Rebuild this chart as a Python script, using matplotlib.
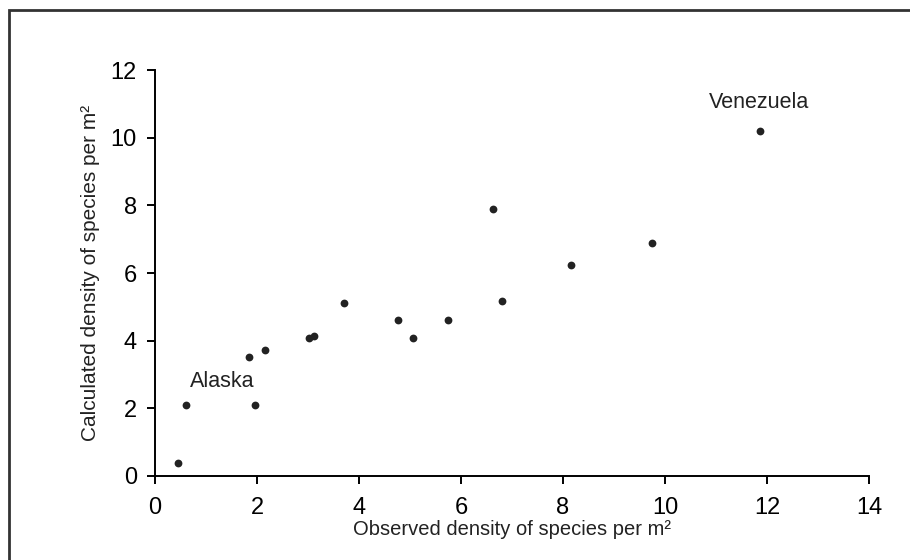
import matplotlib
matplotlib.use("Agg")
import matplotlib.pyplot as plt
from matplotlib.patches import Rectangle

# ---- data ----
observed = [0.45, 0.6, 1.96, 1.85, 2.16, 3.02, 3.12, 3.70, 4.76, 5.06, 5.75,
            6.63, 6.80, 8.16, 9.75, 11.86]
calculated = [0.38, 2.1, 2.1, 3.52, 3.72, 4.09, 4.14, 5.10, 4.61, 4.09, 4.62,
              7.90, 5.17, 6.24, 6.90, 10.20]
x_ticks = [0, 2, 4, 6, 8, 10, 12, 14]
y_ticks = [0, 2, 4, 6, 8, 10, 12]
labels = ["Alaska", "Venezuela"]
label_pos = [(1.32, 2.63), (11.84, 11.03)]

plt.rcParams.update(
    {
        "font.family": ["Liberation Sans", "DejaVu Sans"],
        "axes.linewidth": 1.4,
        "xtick.major.width": 1.4,
        "ytick.major.width": 1.4,
    }
)

fig = plt.figure(figsize=(9.1, 5.6), dpi=100)
ax = fig.add_axes([155 / 910, 1 - 476 / 560, 714 / 910, 406 / 560])

# frame around the whole picture (only top and left visible in the crop)
fig.patches.append(
    Rectangle((9 / 910, -0.2), 2.0, 1.2 - 10 / 560, transform=fig.transFigure,
              fill=False, edgecolor="#333333", linewidth=2.0)
)

ax.plot(observed, calculated, "o", color="#222222", markersize=5.6, markeredgewidth=0)

ax.text(*label_pos[0], labels[0], fontsize=15.5, ha="center", va="baseline", color="#222222")
ax.text(*label_pos[1], labels[1], fontsize=15.5, ha="center", va="center", color="#222222")

ax.set_xlim(0, 14)
ax.set_ylim(0, 12)
ax.set_xticks(x_ticks)
ax.set_yticks(y_ticks)
ax.spines["top"].set_visible(False)
ax.spines["right"].set_visible(False)
ax.tick_params(axis="both", direction="out", length=6, labelsize=17, colors="black")
ax.tick_params(axis="x", pad=9)
ax.tick_params(axis="y", pad=7)

ax.set_xlabel("Observed density of species per m²", fontsize=14.5, labelpad=1, color="#222222")
ax.set_ylabel("Calculated density of species per m²", fontsize=15, labelpad=8, color="#222222")

fig.savefig("out.png", dpi=100, facecolor="white")
